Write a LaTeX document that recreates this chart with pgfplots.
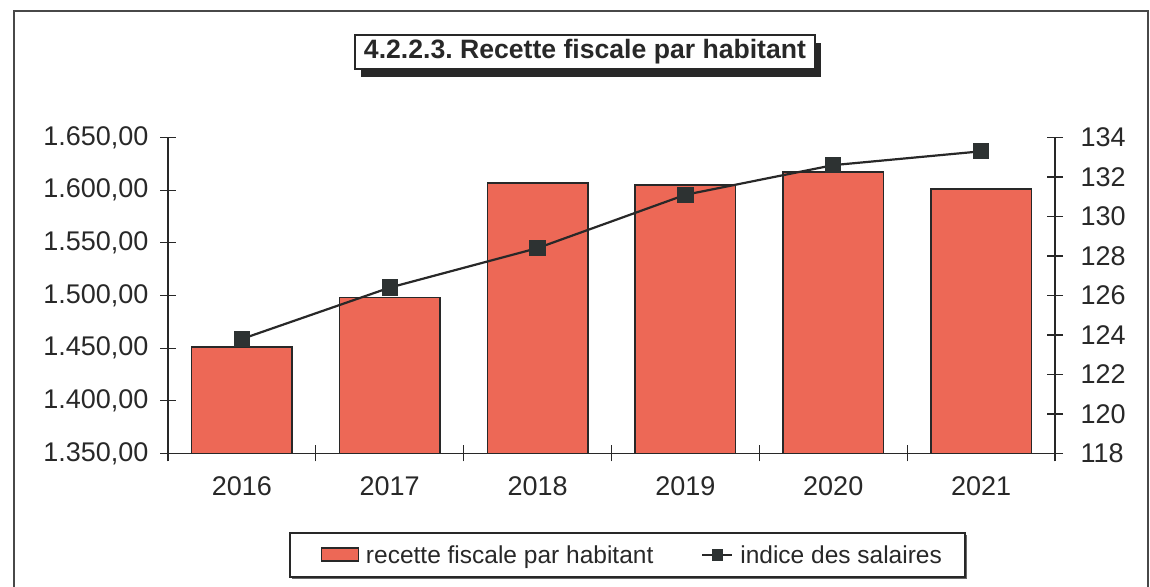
\documentclass[border=0pt]{standalone}
\usepackage{fontspec}
\setmainfont{Liberation Sans}
\usepackage{pgfplots}
\pgfplotsset{compat=1.18}
\definecolor{barfill}{RGB}{237,104,86}
\definecolor{ink}{RGB}{40,40,40}
\definecolor{mk}{RGB}{45,50,50}
\newcommand{\lbl}{\fontsize{24.5bp}{28bp}\selectfont}
\newcommand{\tlbl}{\fontsize{27bp}{30bp}\selectfont}
\frenchspacing
\begin{document}
\begin{tikzpicture}[x=1bp,y=1bp]
\path[use as bounding box] (0,0) rectangle (1150,587);
\draw[line width=1.5bp, ink!85] (14,-20) rectangle (1148,576);
% title with shadow
\fill[ink] (361,510) rectangle (821,544);
\node[draw=ink, line width=1.2bp, fill=white, minimum width=460bp, minimum height=34bp, inner sep=0pt, font=\fontsize{26.6bp}{30bp}\selectfont\bfseries, text=ink] at (585,535) {4.2.2.3. Recette fiscale par habitant};
% legend frame
\fill[ink!70] (292,8) rectangle (967,52);
\draw[ink, line width=1.2bp, fill=white] (290,10) rectangle (965,54);

\pgfplotsset{
  common/.style={
    at={(168bp,133.5bp)}, anchor=south west,
    width=887bp, height=316bp, scale only axis,
    xmin=-0.5, xmax=5.5,
    axis line style={ink, line width=1.3bp},
    tick align=center, major tick length=16bp,
    tick style={ink, line width=1.3bp},
    ticklabel style={font=\tlbl, text=ink},
    /pgf/number format/assume math mode=true,
  }
}

\begin{axis}[common,
  ymin=1350, ymax=1650,
  axis x line*=bottom, axis y line*=left,
  xtick={-0.5,0.5,1.5,2.5,3.5,4.5,5.5},
  xticklabels={2016,2017,2018,2019,2020,2021,{}},
  xticklabel style={xshift=73.9bp, yshift=-12bp},
  ytick={1350,1400,1450,1500,1550,1600,1650},
  yticklabel style={xshift=-8bp, /pgf/number format/.cd, fixed, fixed zerofill, precision=2, 1000 sep={.}, dec sep={,}},
]
\addplot[ybar, bar width=0.68, fill=barfill, draw=ink, line width=1.5bp]
  coordinates {(0,1451) (1,1498) (2,1607) (3,1605) (4,1617) (5,1601)};
\end{axis}

\begin{axis}[common,
  ymin=118, ymax=134,
  axis x line=none, axis y line*=right,
  ytick={118,120,122,124,126,128,130,132,134},
  yticklabel style={xshift=14bp},
  legend columns=2,
  legend style={at={(0.5235,-0.321)}, anchor=center, draw=none, fill=none, font=\lbl, text=ink,
    /tikz/every odd column/.append style={column sep=5bp},
    /tikz/every even column/.append style={column sep=46bp}},
]
\addlegendimage{legend image code/.code={\draw[fill=barfill, draw=ink, line width=1.2bp] (0bp,-6bp) rectangle (37bp,7bp);}}
\addlegendentry{recette fiscale par habitant}
\addplot[ink, line width=2.2bp, mark=square*, mark size=7bp, mark options={fill=mk, draw=mk},
  legend image code/.code={\draw[ink, line width=2bp] (0bp,0bp) -- (30bp,0bp); \fill[mk] (11bp,-4.5bp) rectangle (20bp,4.5bp);}]
  coordinates {(0,123.8) (1,126.4) (2,128.4) (3,131.1) (4,132.6) (5,133.3)};
\addlegendentry{indice des salaires}
\end{axis}
\end{tikzpicture}
\end{document}
